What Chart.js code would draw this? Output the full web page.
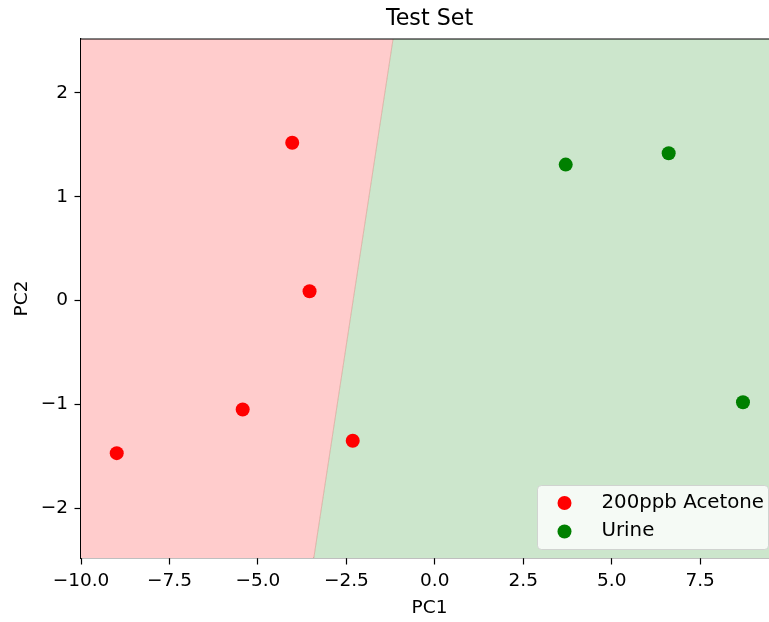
<!DOCTYPE html>
<html>
<head>
<meta charset="utf-8">
<title>Test Set</title>
<script src="https://cdn.jsdelivr.net/npm/chart.js@4/dist/chart.umd.min.js"></script>
<style>
  html, body { margin: 0; padding: 0; overflow: hidden; background: #fff; }
  /* the figure is a little wider than the window; its right edge is cut off */
  #wrap { width: 769px; height: 622px; overflow: hidden; }
  #c { display: block; }
</style>
</head>
<body>
<div id="wrap"><canvas id="c" width="779" height="622"></canvas></div>
<script>
// PCA scores of the test samples
const acetoneX = [-4.03, -3.54, -5.43, -8.99, -2.32];
const acetoneY = [1.52, 0.09, -1.05, -1.47, -1.35];
const urineX = [3.70, 6.61, 8.71];
const urineY = [1.31, 1.42, -0.98];

// Classifier decision boundary (end points at the top and bottom of the plot)
const boundaryX = [-1.18, -3.42];
const boundaryY = [2.52, -2.48];

// Axis limits and ticks
const xBounds = [-10.0, 9.70];
const yBounds = [-2.48, 2.52];
const xTicks = [-10, -7.5, -5, -2.5, 0, 2.5, 5, 7.5];
const yTicks = [-2, -1, 0, 1, 2];

const FONT = 'DejaVu Sans';
const minus = s => s.replace('-', '\u2212');

const toPoints = (xs, ys) => xs.map((x, i) => ({ x: x, y: ys[i] }));

// Decision regions on either side of the boundary
const acetoneRegion = [
  { x: xBounds[0], y: yBounds[1] },
  { x: boundaryX[0], y: boundaryY[0] },
  { x: boundaryX[1], y: boundaryY[1] },
  { x: xBounds[0], y: yBounds[0] },
  { x: xBounds[0], y: yBounds[1] }
];
const urineRegion = [
  { x: boundaryX[0], y: boundaryY[0] },
  { x: xBounds[1], y: yBounds[1] },
  { x: xBounds[1], y: yBounds[0] },
  { x: boundaryX[1], y: boundaryY[1] },
  { x: boundaryX[0], y: boundaryY[0] }
];

Chart.defaults.font.family = FONT;
Chart.defaults.color = '#000';

// Frame (top/right spines), title and the boxed legend
const decorations = {
  id: 'decorations',
  afterDraw(chart) {
    const ctx = chart.ctx;
    const a = chart.chartArea;
    ctx.save();
    ctx.strokeStyle = '#000';
    ctx.lineWidth = 1.2;
    ctx.beginPath();
    ctx.moveTo(a.left, a.top);
    ctx.lineTo(a.right, a.top);
    ctx.lineTo(a.right, a.bottom);
    ctx.stroke();

    ctx.fillStyle = '#000';
    ctx.font = '22.2px "' + FONT + '"';
    ctx.textAlign = 'center';
    ctx.textBaseline = 'alphabetic';
    ctx.fillText('Test Set', (a.left + a.right) / 2, 24.5);

    const items = chart.data.datasets.filter(d => d.inLegend);
    const w = 231, h = 64;
    const lx = a.right - 10 - w, ly = a.bottom - 9 - h;
    ctx.beginPath();
    ctx.roundRect(lx + 0.5, ly + 0.5, w, h, 4);
    ctx.fillStyle = 'rgba(255,255,255,0.8)';
    ctx.fill();
    ctx.strokeStyle = 'rgba(204,204,204,0.8)';
    ctx.lineWidth = 1;
    ctx.stroke();

    ctx.font = '19.8px "' + FONT + '"';
    ctx.textAlign = 'left';
    ctx.textBaseline = 'middle';
    items.forEach((d, i) => {
      const cy = ly + 18 + i * 28.5;
      ctx.beginPath();
      ctx.arc(lx + 27.5, cy, 7, 0, Math.PI * 2);
      ctx.fillStyle = d.backgroundColor;
      ctx.fill();
      ctx.fillStyle = '#000';
      ctx.fillText(d.label, lx + 64.5, cy - 0.5);
    });
    ctx.restore();
  }
};

// fixed axis box sizes
const fitX = s => { s.height = 64; s.paddingLeft = 0; s.paddingRight = 0; };
const fitY = s => { s.width = 81; s.paddingTop = 0; s.paddingBottom = 0; };

new Chart(document.getElementById('c'), {
  type: 'scatter',
  data: {
    datasets: [
      {
        label: '200ppb Acetone',
        inLegend: true,
        data: toPoints(acetoneX, acetoneY),
        backgroundColor: '#ff0000',
        borderColor: '#ff0000',
        borderWidth: 0,
        pointRadius: 7,
        order: 0
      },
      {
        label: 'Urine',
        inLegend: true,
        data: toPoints(urineX, urineY),
        backgroundColor: '#008000',
        borderColor: '#008000',
        borderWidth: 0,
        pointRadius: 7,
        order: 0
      },
      {
        type: 'line',
        label: 'boundary',
        data: toPoints(boundaryX, boundaryY),
        borderColor: 'rgba(190,130,110,0.55)',
        borderWidth: 0.8,
        pointRadius: 0,
        fill: false,
        order: 1
      },
      {
        type: 'line',
        label: 'acetone region',
        data: acetoneRegion,
        backgroundColor: '#ffcccc',
        borderWidth: 0,
        pointRadius: 0,
        fill: 'shape',
        order: 2
      },
      {
        type: 'line',
        label: 'urine region',
        data: urineRegion,
        backgroundColor: '#cce6cc',
        borderWidth: 0,
        pointRadius: 0,
        fill: 'shape',
        order: 2
      }
    ]
  },
  options: {
    responsive: false,
    animation: false,
    devicePixelRatio: 1,
    events: [],
    layout: { autoPadding: false, padding: { top: 39, right: 1, left: 0, bottom: 0 } },
    plugins: {
      legend: { display: false },
      title: { display: false },
      tooltip: { enabled: false }
    },
    scales: {
      x: {
        type: 'linear',
        min: xBounds[0],
        max: xBounds[1],
        afterBuildTicks: s => { s.ticks = xTicks.map(v => ({ value: v })); },
        afterFit: fitX,
        grid: { display: true, drawOnChartArea: false, drawTicks: true, tickLength: 6.5, tickWidth: 1.2, tickColor: '#000', color: '#000' },
        border: { display: true, color: '#000', width: 1.2 },
        ticks: {
          padding: 5.5,
          maxRotation: 0,
          autoSkip: false,
          color: '#000',
          font: { size: 18.5 },
          callback: v => minus(Number(v).toFixed(1))
        },
        title: { display: true, text: 'PC1', color: '#000', font: { size: 18.5 }, padding: { top: 0, bottom: 2.5 } }
      },
      y: {
        type: 'linear',
        min: yBounds[0],
        max: yBounds[1],
        afterBuildTicks: s => { s.ticks = yTicks.map(v => ({ value: v })); },
        afterFit: fitY,
        grid: { display: true, drawOnChartArea: false, drawTicks: true, tickLength: 6.5, tickWidth: 1.2, tickColor: '#000', color: '#000' },
        border: { display: true, color: '#000', width: 1.2 },
        ticks: {
          padding: 6.5,
          autoSkip: false,
          color: '#000',
          font: { size: 18.5 },
          callback: v => minus(String(v))
        },
        title: { display: true, text: 'PC2', color: '#000', font: { size: 18.5 }, padding: { top: 10.9, bottom: 0 } }
      }
    }
  },
  plugins: [decorations]
});
</script>
</body>
</html>
